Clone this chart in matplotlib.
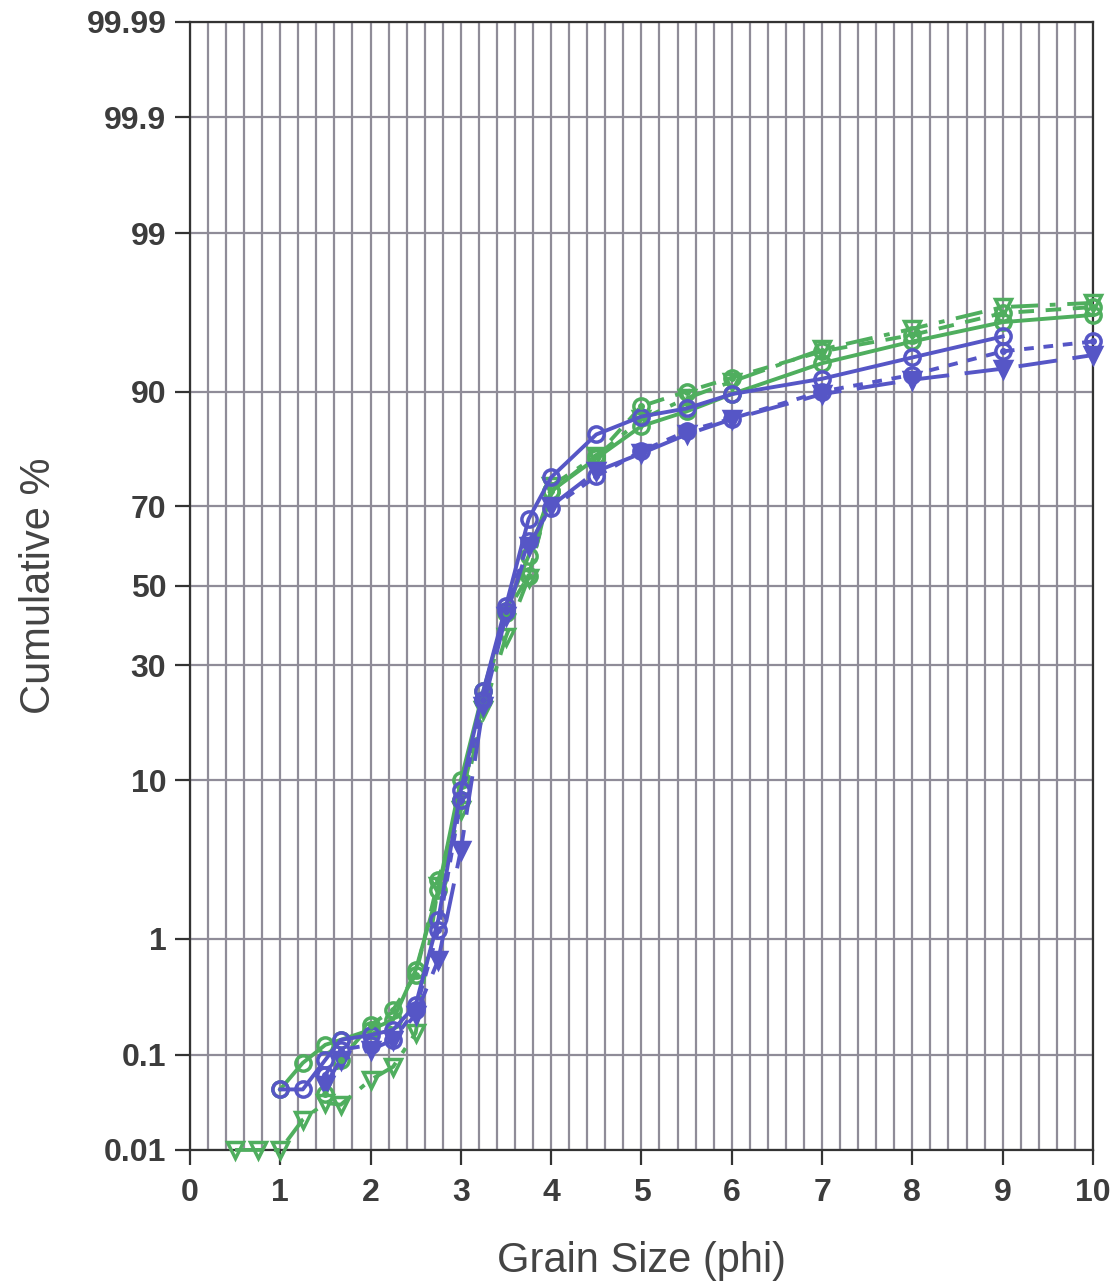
import numpy as np
import matplotlib
matplotlib.use("Agg")
import matplotlib.pyplot as plt
from matplotlib.ticker import FixedLocator, FixedFormatter, MultipleLocator
from statistics import NormalDist

# grain size classes (phi)
phi_g1 = [1.0, 1.25, 1.5, 1.67, 2.0, 2.25, 2.5, 2.75, 3.0, 3.25, 3.5, 3.75, 4.0,
          4.5, 5.0, 5.5, 6.0, 7.0, 8.0, 9.0, 10.0]
phi_g2 = [1.5, 1.67, 2.0, 2.25, 2.5, 2.75, 3.0, 3.25, 3.5, 3.75, 4.0,
          4.5, 5.0, 5.5, 6.0, 7.0, 8.0, 9.0, 10.0]
phi_g3 = [0.5, 0.75, 1.0, 1.25, 1.5, 1.67, 2.0, 2.25, 2.5, 2.75, 3.0, 3.25, 3.5,
          3.75, 4.0, 4.5, 5.0, 5.5, 6.0, 7.0, 8.0, 9.0, 10.0]
phi_b1 = [1.0, 1.25, 1.5, 1.67, 2.0, 2.25, 2.5, 2.75, 3.0, 3.25, 3.5, 3.75, 4.0,
          4.5, 5.0, 5.5, 6.0, 7.0, 8.0, 9.0]
phi_b2 = [1.5, 1.67, 2.0, 2.25, 2.5, 2.75, 3.0, 3.25, 3.5, 3.75, 4.0,
          4.5, 5.0, 5.5, 6.0, 7.0, 8.0, 9.0, 10.0]
phi_b3 = [1.5, 1.67, 2.0, 2.25, 2.5, 2.75, 3.0, 3.25, 3.5, 3.75, 4.0,
          4.5, 5.0, 5.5, 6.0, 7.0, 8.0, 9.0, 10.0]

# cumulative percent finer
cum_g1 = [0.045, 0.083, 0.124, 0.138, 0.171, 0.211, 0.565, 2.24, 9.98, 24.5, 43.5,
          57.8, 73.4, 80.0, 85.4, 87.5, 89.7, 92.9, 94.65, 95.9, 96.3]
cum_g2 = [0.040, 0.089, 0.190, 0.259, 0.514, 2.61, 7.87, 22.5, 42.9, 52.6, 73.4,
          80.4, 88.2, 90.0, 91.5, 93.9, 95.1, 96.4, 96.7]
cum_g3 = [0.01, 0.01, 0.01, 0.0216, 0.0327, 0.0312, 0.0563, 0.076, 0.160, 2.4, 6.94,
          20.6, 36.9, 52.1, 74.5, 80.4, 86.4, 89.2, 91.1, 94.05, 95.5, 96.7, 96.9]
cum_b1 = [0.045, 0.045, 0.089, 0.138, 0.153, 0.171, 0.286, 1.38, 8.87, 24.5, 44.8,
          67.0, 76.3, 84.1, 86.8, 87.9, 89.7, 91.4, 93.4, 95.0]
cum_b2 = [0.063, 0.111, 0.124, 0.138, 0.259, 1.16, 7.87, 22.5, 43.5, 61.6, 69.6,
          76.5, 81.3, 84.6, 86.5, 90.0, 91.8, 93.9, 94.65]
cum_b3 = [0.050, 0.089, 0.111, 0.138, 0.234, 0.681, 4.07, 21.5, 42.2, 60.4, 70.1,
          77.5, 80.9, 84.1, 86.4, 89.7, 91.3, 92.4, 93.6]

prob_ticks = [0.01, 0.1, 1, 10, 30, 50, 70, 90, 99, 99.9, 99.99]
prob_labels = ["0.01", "0.1", "1", "10", "30", "50", "70", "90", "99", "99.9", "99.99"]

GREEN = "#4fae5e"
BLUE = "#5656c6"

_nd = NormalDist()


def pct_to_z(p):
    p = np.clip(np.asarray(p, dtype=float), 1e-7, 100 - 1e-7)
    return np.vectorize(lambda v: _nd.inv_cdf(v / 100.0), otypes=[float])(p)


def z_to_pct(z):
    z = np.asarray(z, dtype=float)
    return np.vectorize(lambda v: _nd.cdf(v) * 100.0, otypes=[float])(z)


fig = plt.figure(figsize=(11.17, 12.87), dpi=100)
ax = fig.add_axes([0.170, 0.1065, 0.8085, 0.8765])
ax.set_yscale("function", functions=(pct_to_z, z_to_pct))
ax.set_xlim(0, 10)
ax.set_ylim(0.01, 99.99)

series = [
    (phi_g1, cum_g1, GREEN, "-", "o", False),
    (phi_g2, cum_g2, GREEN, (0, (4, 3)), "o", True),
    (phi_g3, cum_g3, GREEN, (0, (7, 3, 1.5, 3)), "v", False),
    (phi_b1, cum_b1, BLUE, "-", "o", False),
    (phi_b2, cum_b2, BLUE, (0, (2.5, 2.5)), "o", True),
    (phi_b3, cum_b3, BLUE, (0, (10, 4)), "v", "full"),
]

for x, y, col, ls, mk, dot in series:
    fill = "full" if dot == "full" else "none"
    ax.plot(x, y, color=col, linestyle=ls, linewidth=2.8, marker=mk,
            markersize=11, fillstyle=fill, markeredgewidth=2.5,
            clip_on=False, zorder=3)
    if dot is True:
        ax.plot(x, y, linestyle="none", marker="o", markersize=4,
                color=col, clip_on=False, zorder=4)

ax.yaxis.set_major_locator(FixedLocator(prob_ticks))
ax.yaxis.set_major_formatter(FixedFormatter(prob_labels))
ax.yaxis.set_minor_locator(FixedLocator([]))
ax.xaxis.set_major_locator(MultipleLocator(1))
ax.xaxis.set_minor_locator(MultipleLocator(0.2))

ax.grid(True, which="major", axis="y", color="#8f8c98", linewidth=1.6)
ax.grid(True, which="both", axis="x", color="#8f8c98", linewidth=1.6)
ax.set_axisbelow(True)

for s in ax.spines.values():
    s.set_color("#333333")
    s.set_linewidth(1.6)

ax.tick_params(axis="both", which="major", direction="out", length=11,
               width=1.6, color="#333333", labelsize=23, labelcolor="#3c3c3c")
ax.tick_params(axis="x", which="minor", length=0)
ax.tick_params(axis="y", pad=6)
ax.tick_params(axis="x", pad=9)
for lab in ax.get_xticklabels() + ax.get_yticklabels():
    lab.set_fontweight("bold")
    lab.set_fontfamily("Liberation Sans")

ax.set_xlabel("Grain Size (phi)", fontsize=30, color="#444444",
              fontfamily="Liberation Sans", labelpad=24)
ax.set_ylabel("Cumulative %", fontsize=30, color="#444444",
              fontfamily="Liberation Sans", labelpad=20)

fig.savefig("out.png", dpi=100, facecolor="white")
